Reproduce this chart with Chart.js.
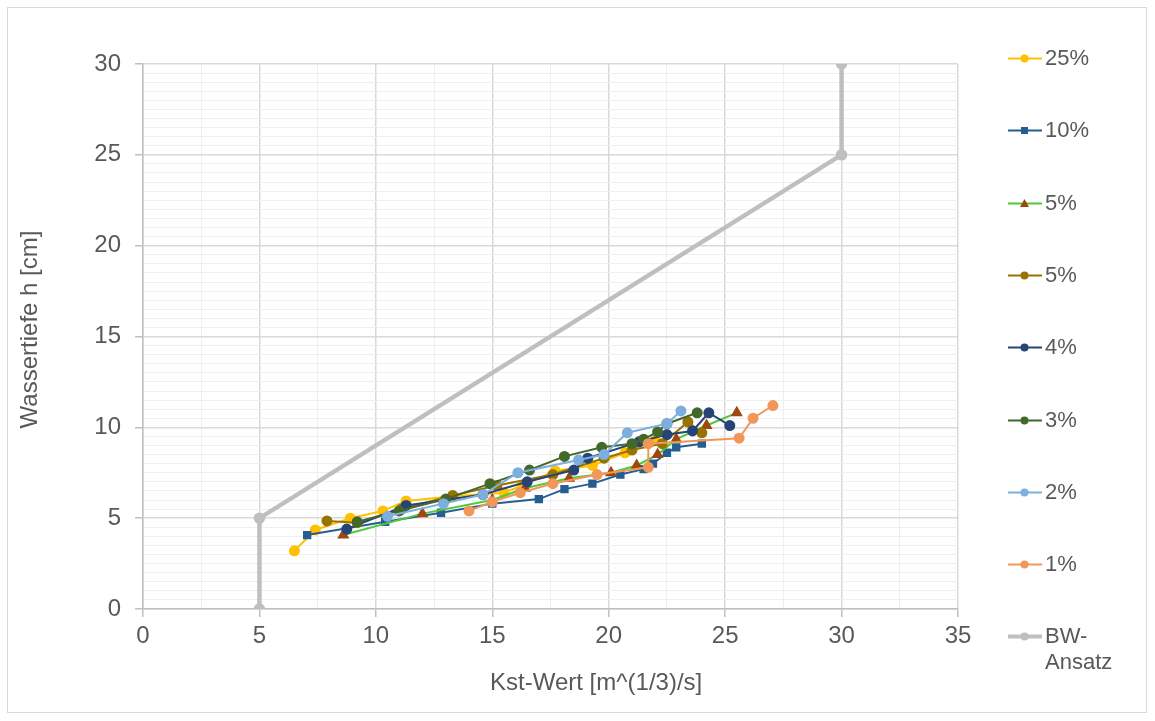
<!DOCTYPE html>
<html>
<head>
<meta charset="utf-8">
<script src="https://cdn.jsdelivr.net/npm/chart.js@4.4.0/dist/chart.umd.min.js"></script>
<style>
  body { margin: 0; background: #fff; }
  #wrap { position: relative; width: 1155px; height: 721px; font-family: "Liberation Sans", Arial, sans-serif; }
  #frame { position: absolute; left: 7px; top: 7px; width: 1140px; height: 706px; border: 1px solid #d9d9d9; box-sizing: border-box; }
  #legend { position: absolute; left: 1008px; top: 0; }
  .item { position: absolute; left: 0; display: flex; align-items: flex-start; color: #595959; font-size: 22px; line-height: 26px; white-space: nowrap; }
  .item svg { margin-top: 7px; margin-right: 3px; }
</style>
</head>
<body>
<div id="wrap">
  <div id="frame"></div>
  <canvas id="kstChart"></canvas>
  <div id="legend"></div>
</div>
<script>
// series names
const seriesNames = ['25%', '10%', '5%', '5%', '4%', '3%', '2%', '1%', 'BW-Ansatz'];

// Kst values (x) and water depth (y) per series
const kst25 = [6.5, 7.4, 8.9, 10.3, 11.3, 13.3, 15.5, 16.3, 17.7, 19.3, 20.7, 22.0];
const h25   = [3.2, 4.35, 5.0, 5.4, 5.95, 6.2, 6.4, 6.8, 7.6, 7.9, 8.6, 9.3];

const kst10 = [7.05, 10.4, 12.8, 15.0, 17.0, 18.1, 19.3, 20.5, 21.5, 21.9, 22.5, 22.9, 24.0];
const h10   = [4.07, 4.8, 5.3, 5.8, 6.05, 6.6, 6.9, 7.4, 7.7, 8.0, 8.6, 8.9, 9.1];

const kst5a = [8.6, 12.0, 15.0, 16.4, 18.3, 20.1, 21.2, 22.1, 22.9, 24.2, 25.5];
const h5a   = [4.07, 5.25, 6.0, 6.65, 7.2, 7.5, 7.9, 8.5, 9.35, 10.1, 10.8];

const kst5b = [7.9, 9.2, 11.1, 13.3, 15.2, 17.6, 19.8, 21.0, 22.3, 23.4, 24.0];
const h5b   = [4.85, 4.75, 5.5, 6.25, 6.8, 7.4, 8.3, 8.75, 9.1, 10.3, 9.7];

const kst4 = [8.75, 11.3, 14.6, 16.5, 18.5, 19.1, 21.3, 22.5, 23.6, 24.3, 25.2];
const h4   = [4.4, 5.7, 6.3, 7.0, 7.65, 8.3, 9.2, 9.6, 9.8, 10.8, 10.1];

const kst3 = [9.2, 11.0, 13.0, 14.9, 16.6, 18.1, 19.7, 21.0, 21.5, 22.1, 22.5, 23.8];
const h3   = [4.8, 5.4, 6.05, 6.9, 7.65, 8.4, 8.9, 9.1, 9.35, 9.75, 10.2, 10.8];

const kst2 = [10.5, 12.9, 14.6, 16.1, 18.7, 19.8, 20.8, 22.5, 23.1];
const h2   = [5.1, 5.8, 6.3, 7.5, 8.2, 8.5, 9.7, 10.2, 10.9];

const kst1 = [14.0, 15.0, 16.2, 17.6, 19.5, 21.7, 21.7, 25.6, 26.2, 27.05];
const h1   = [5.4, 5.9, 6.4, 6.9, 7.4, 7.8, 9.1, 9.4, 10.5, 11.2];

const kstBW = [5, 5, 30, 30];
const hBW   = [0, 5, 25, 30];

// styles
const lineColors  = ['#ffc000', '#255e91', '#4ec93a', '#997300', '#264478', '#43682b', '#7cafdd', '#f1975a', '#bfbfbf'];
const pointColors = ['#ffc000', '#255e91', '#9e480e', '#997300', '#264478', '#43682b', '#7cafdd', '#f1975a', '#bfbfbf'];
const pointShapes = ['circle', 'rect', 'triangle', 'circle', 'circle', 'circle', 'circle', 'circle', 'circle'];

const xs = [kst25, kst10, kst5a, kst5b, kst4, kst3, kst2, kst1, kstBW];
const ys = [h25, h10, h5a, h5b, h4, h3, h2, h1, hBW];

const textGrey = '#595959';

function toPoints(x, y) {
    return x.map((v, i) => ({ x: v, y: y[i] }));
}

const datasets = seriesNames.map((name, i) => {
    const isBW = i === seriesNames.length - 1;
    return {
        label: name,
        data: toPoints(xs[i], ys[i]),
        showLine: true,
        borderColor: lineColors[i],
        backgroundColor: pointColors[i],
        pointBackgroundColor: pointColors[i],
        pointBorderColor: pointColors[i],
        pointStyle: pointShapes[i],
        pointRadius: isBW ? 3.5 : (pointShapes[i] === 'triangle' ? 5 : 4.5),
        borderWidth: isBW ? 4.5 : 2,
        tension: 0,
        order: seriesNames.length - i
    };
});

// axis titles drawn at Excel-like positions
const axisTitles = {
    id: 'axisTitles',
    afterDraw(chart) {
        const ctx = chart.ctx;
        const a = chart.chartArea;
        ctx.save();
        ctx.fillStyle = textGrey;
        ctx.font = '24px "Liberation Sans", Arial, sans-serif';
        ctx.textAlign = 'center';
        ctx.textBaseline = 'middle';
        ctx.fillText('Kst-Wert [m^(1/3)/s]', a.left + (a.right - a.left) * 0.556, 683);
        ctx.translate(30, (a.top + a.bottom) / 2 - 7);
        ctx.rotate(-Math.PI / 2);
        ctx.fillText('Wassertiefe h [cm]', 0, 0);
        ctx.restore();
    }
};

function isMajor(v) {
    return Math.abs(v / 5 - Math.round(v / 5)) < 1e-6;
}

const tickFont = { family: '"Liberation Sans", Arial, sans-serif', size: 24 };

new Chart(document.getElementById('kstChart'), {
    type: 'scatter',
    data: { datasets: datasets },
    options: {
        responsive: true,
        maintainAspectRatio: false,
        animation: false,
        layout: { padding: { left: 0, top: 64, right: 197, bottom: 0 } },
        plugins: {
            legend: { display: false },
            tooltip: { enabled: false }
        },
        scales: {
            x: {
                type: 'linear',
                min: 0,
                max: 35,
                afterFit(scale) { scale.height = 112; },
                border: { color: '#bfbfbf', width: 1.5 },
                grid: {
                    color: c => isMajor(c.tick.value) ? '#d9d9d9' : '#efefef',
                    lineWidth: c => isMajor(c.tick.value) ? 1.5 : 1,
                    tickLength: 8,
                    tickColor: c => isMajor(c.tick.value) ? '#bfbfbf' : 'rgba(0,0,0,0)'
                },
                ticks: {
                    stepSize: 2.5,
                    autoSkip: false,
                    maxRotation: 0,
                    padding: 5,
                    color: textGrey,
                    font: tickFont,
                    callback: v => isMajor(v) ? v : ''
                }
            },
            y: {
                type: 'linear',
                min: 0,
                max: 30,
                afterFit(scale) { scale.width = 143; },
                border: { color: '#bfbfbf', width: 1.5 },
                grid: {
                    color: c => isMajor(c.tick.value) ? '#d9d9d9' : '#efefef',
                    lineWidth: c => isMajor(c.tick.value) ? 1.5 : 1,
                    tickLength: 8,
                    tickColor: c => isMajor(c.tick.value) ? '#bfbfbf' : 'rgba(0,0,0,0)'
                },
                ticks: {
                    stepSize: 0.5,
                    autoSkip: false,
                    padding: 14,
                    color: textGrey,
                    font: tickFont,
                    callback: v => isMajor(v) ? v : ''
                }
            }
        }
    },
    plugins: [axisTitles]
});

// legend (Excel style: line with marker)
function markerSvg(i) {
    const c = lineColors[i], p = pointColors[i];
    let mark;
    if (pointShapes[i] === 'rect') {
        mark = `<rect x="13" y="3" width="7" height="7" fill="${p}"/>`;
    } else if (pointShapes[i] === 'triangle') {
        mark = `<polygon points="16.5,2 21,10 12,10" fill="${p}"/>`;
    } else {
        mark = `<circle cx="16.5" cy="6.5" r="4" fill="${p}"/>`;
    }
    const w = i === seriesNames.length - 1 ? 4 : 2;
    return `<svg width="34" height="13"><line x1="0" y1="6.5" x2="34" y2="6.5" stroke="${c}" stroke-width="${w}"/>${mark}</svg>`;
}

const legendEl = document.getElementById('legend');
seriesNames.forEach((name, i) => {
    const item = document.createElement('div');
    item.className = 'item';
    item.style.top = (45 + i * 72.3) + 'px';
    const text = name === 'BW-Ansatz' ? 'BW-<br>Ansatz' : name;
    item.innerHTML = markerSvg(i) + '<span>' + text + '</span>';
    legendEl.appendChild(item);
});
</script>
</body>
</html>
